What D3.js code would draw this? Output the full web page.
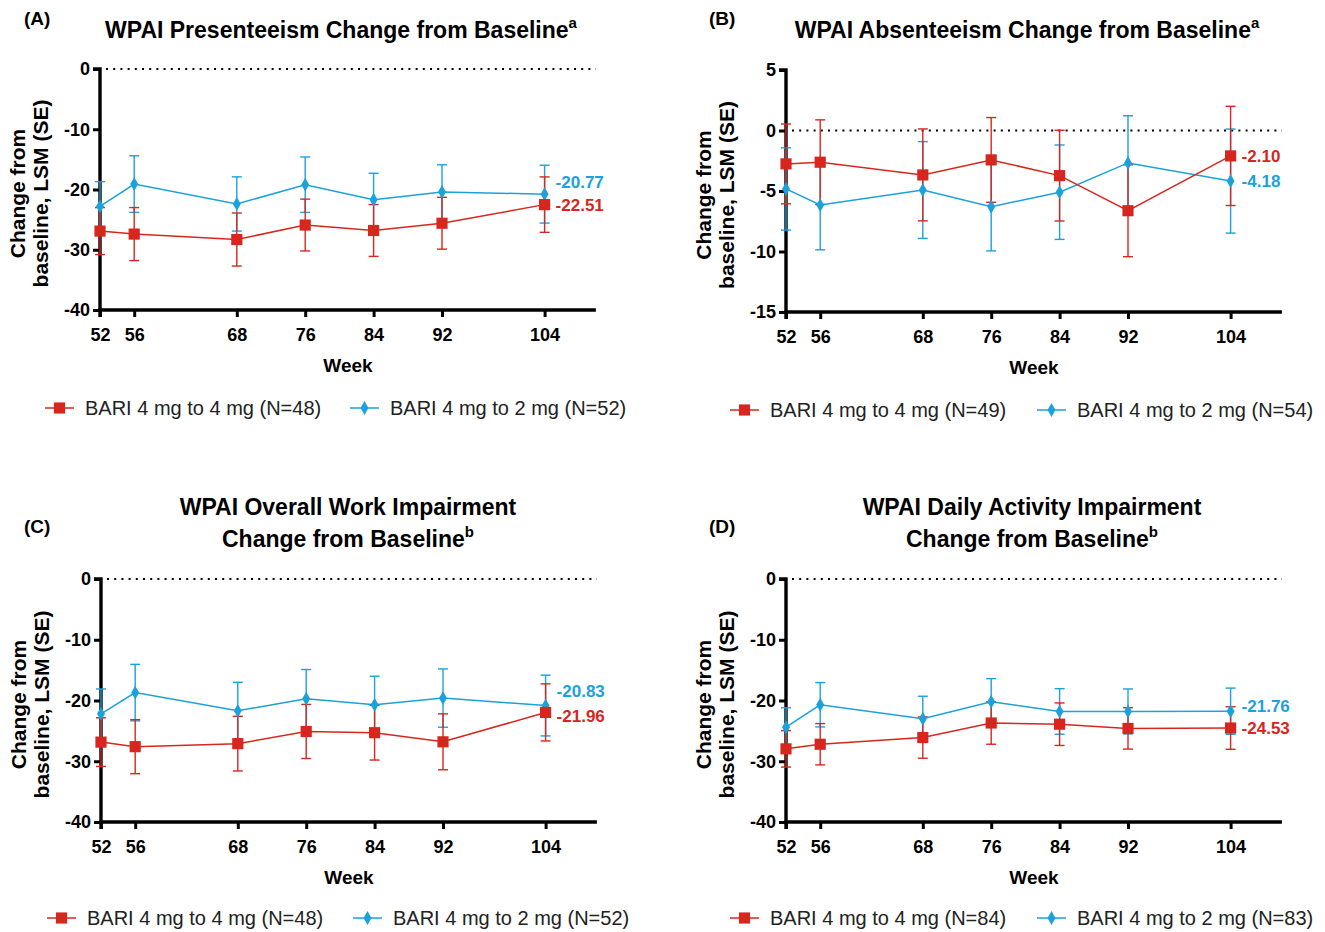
<!DOCTYPE html>
<html>
<head>
<meta charset="utf-8">
<script src="https://cdn.jsdelivr.net/npm/d3@7/dist/d3.min.js"></script>
<style>
  body { margin: 0; background: #fff; }
  svg text { font-family: "Liberation Sans", Arial, sans-serif; }
</style>
</head>
<body>
<div id="chart"></div>
<script>
// --- données ---
const weeks = [52, 56, 68, 76, 84, 92, 104];

// (A) Presenteeism
const presRed = [-26.9, -27.4, -28.3, -25.9, -26.8, -25.6, -22.51];
const presRedSE = [3.9, 4.4, 4.4, 4.3, 4.3, 4.3, 4.6];
const presBlue = [-22.8, -19.1, -22.4, -19.2, -21.7, -20.4, -20.77];
const presBlueSE = [4.1, 4.7, 4.5, 4.6, 4.4, 4.5, 4.8];

// (B) Absenteeism
const absRed = [-2.76, -2.62, -3.67, -2.43, -3.73, -6.63, -2.10];
const absRedSE = [3.3, 3.5, 3.8, 3.5, 3.75, 3.8, 4.1];
const absBlue = [-4.83, -6.16, -4.92, -6.3, -5.1, -2.68, -4.18];
const absBlueSE = [3.4, 3.7, 4.0, 3.65, 3.9, 3.9, 4.3];

// (C) Overall work impairment
const workRed = [-26.85, -27.6, -27.1, -25.1, -25.3, -26.8, -21.96];
const workRedSE = [4.0, 4.45, 4.5, 4.45, 4.5, 4.6, 4.7];
const workBlue = [-22.2, -18.7, -21.7, -19.7, -20.7, -19.6, -20.83];
const workBlueSE = [4.1, 4.65, 4.7, 4.8, 4.7, 4.8, 5.0];

// (D) Daily activity impairment
const dailyRed = [-27.96, -27.2, -26.1, -23.7, -23.9, -24.6, -24.53];
const dailyRedSE = [3.0, 3.4, 3.4, 3.5, 3.5, 3.4, 3.5];
const dailyBlue = [-24.4, -20.7, -23.0, -20.2, -21.8, -21.8, -21.76];
const dailyBlueSE = [3.2, 3.65, 3.7, 3.8, 3.75, 3.7, 3.8];

const yTicksA = [0, -10, -20, -30, -40];
const yTicksB = [5, 0, -5, -10, -15];

const RED = "#d7261e", BLUE = "#1ba1dc";

const svg = d3.select("#chart").append("svg")
    .attr("width", 1325).attr("height", 932);

// --- panneaux ---
const panels = [
  { tag: "(A)", title: ["WPAI Presenteeism Change from Baseline"], sup: "a",
    red: presRed, redSE: presRedSE, blue: presBlue, blueSE: presBlueSE,
    nRed: 48, nBlue: 52, yDomain: [-40, 0], yTicks: yTicksA,
    x0: 100, yTop: 69, yBot: 310, tagX: 24, tagY: 25, titleX: 341, titleY: 38,
    lab: [0, -12], legY: 408, legRed: 45, legBlue: 350 },
  { tag: "(B)", title: ["WPAI Absenteeism Change from Baseline"], sup: "a",
    red: absRed, redSE: absRedSE, blue: absBlue, blueSE: absBlueSE,
    nRed: 49, nBlue: 54, yDomain: [-15, 5], yTicks: yTicksB,
    x0: 786, yTop: 70, yBot: 312, tagX: 709, tagY: 25, titleX: 1027, titleY: 38,
    lab: [0, 0], legY: 410, legRed: 730, legBlue: 1037 },
  { tag: "(C)", title: ["WPAI Overall Work Impairment", "Change from Baseline"], sup: "b",
    red: workRed, redSE: workRedSE, blue: workBlue, blueSE: workBlueSE,
    nRed: 48, nBlue: 52, yDomain: [-40, 0], yTicks: yTicksA,
    x0: 101, yTop: 579, yBot: 822, tagX: 24, tagY: 533, titleX: 348, titleY: 515,
    lab: [4, -14], legY: 918, legRed: 47, legBlue: 353 },
  { tag: "(D)", title: ["WPAI Daily Activity Impairment", "Change from Baseline"], sup: "b",
    red: dailyRed, redSE: dailyRedSE, blue: dailyBlue, blueSE: dailyBlueSE,
    nRed: 84, nBlue: 83, yDomain: [-40, 0], yTicks: yTicksA,
    x0: 786, yTop: 579, yBot: 822, tagX: 709, tagY: 533, titleX: 1032, titleY: 515,
    lab: [0, -5], legY: 918, legRed: 730, legBlue: 1037 }
];

const square = d3.symbol().type(d3.symbolSquare).size(125);
const diamond = d3.symbol().type(d3.symbolDiamond).size(55);

function drawPanel(p) {
  const g = svg.append("g");
  const pxPerWeek = 8.55;
  const x = d3.scaleLinear().domain([52, 110]).range([p.x0, p.x0 + 58 * pxPerWeek]);
  const y = d3.scaleLinear().domain(p.yDomain).range([p.yBot, p.yTop]);

  // étiquette du panneau
  g.append("text").attr("x", p.tagX).attr("y", p.tagY)
    .style("font-size", "19px").style("font-weight", "bold").text(p.tag);

  // titre (dernière ligne avec exposant)
  p.title.forEach((line, i) => {
    const t = g.append("text")
      .attr("x", p.titleX).attr("y", p.titleY + i * 32)
      .attr("text-anchor", "middle")
      .style("font-size", "23px").style("font-weight", "bold")
      .text(line);
    if (i === p.title.length - 1) {
      t.append("tspan").attr("dy", -10).style("font-size", "15px").text(p.sup);
    }
  });

  // ligne de référence à zéro
  g.append("line")
    .attr("x1", x(52) + 6).attr("x2", x(110))
    .attr("y1", y(0)).attr("y2", y(0))
    .style("stroke", "#000").style("stroke-width", 2.2)
    .style("stroke-dasharray", "2,5.2");

  // axes
  const fmt = d => String(d);
  const yAxis = d3.axisLeft(y).tickValues(p.yTicks).tickFormat(fmt).tickSize(7).tickPadding(3);
  const xAxis = d3.axisBottom(x).tickValues(weeks).tickFormat(fmt).tickSize(7).tickPadding(11);

  const ya = g.append("g").attr("transform", `translate(${p.x0},0)`).call(yAxis);
  const xa = g.append("g").attr("transform", `translate(0,${p.yBot})`).call(xAxis);
  [ya, xa].forEach(a => {
    a.select(".domain").attr("stroke-width", 3.4);
    a.selectAll(".tick line").attr("stroke-width", 3);
    a.selectAll(".tick text").style("font-size", "18px").style("font-weight", "bold").attr("fill", "#000");
  });
  ya.select(".domain").attr("d", `M-7,${p.yTop}H0V${p.yBot}`);
  xa.select(".domain").attr("d", `M${p.x0},7V0H${x(110)}`);

  // titres des axes
  g.append("text")
    .attr("x", x(81)).attr("y", p.yBot + 62)
    .attr("text-anchor", "middle")
    .style("font-size", "19px").style("font-weight", "bold").text("Week");

  const yMid = (p.yTop + p.yBot) / 2 + 4;
  const yl = g.append("text")
    .attr("transform", `translate(${p.x0 - 75},${yMid}) rotate(-90)`)
    .attr("text-anchor", "middle")
    .style("font-size", "21px").style("font-weight", "bold");
  yl.append("tspan").attr("x", 0).attr("dy", 0).text("Change from");
  yl.append("tspan").attr("x", 0).attr("dy", 23).text("baseline, LSM (SE)");

  const series = [
    { vals: p.blue, se: p.blueSE, color: BLUE, sym: diamond, width: 1.4 },
    { vals: p.red, se: p.redSE, color: RED, sym: square, width: 1.4 }
  ];

  // barres d'erreur
  series.forEach(s => {
    const eb = g.append("g");
    weeks.forEach((w, i) => {
      const cx = x(w), hi = y(s.vals[i] + s.se[i]), lo = y(s.vals[i] - s.se[i]);
      eb.append("line").attr("x1", cx).attr("x2", cx).attr("y1", hi).attr("y2", lo)
        .style("stroke", s.color).style("stroke-width", s.width);
      [hi, lo].forEach(cy => eb.append("line")
        .attr("x1", cx - 5).attr("x2", cx + 5).attr("y1", cy).attr("y2", cy)
        .style("stroke", s.color).style("stroke-width", s.width));
    });
  });

  // lignes + marqueurs
  const line = d3.line().x((d, i) => x(weeks[i])).y(d => y(d));
  series.forEach(s => {
    g.append("path").datum(s.vals).attr("d", line)
      .style("fill", "none").style("stroke", s.color).style("stroke-width", 1.5);
  });
  series.forEach(s => {
    g.selectAll(null).data(s.vals).enter().append("path")
      .attr("d", s.sym)
      .attr("transform", (d, i) => `translate(${x(weeks[i])},${y(d)})`)
      .style("fill", s.color);
  });

  // valeurs finales
  const last = weeks.length - 1;
  [[p.red[last], RED, p.lab[0]], [p.blue[last], BLUE, p.lab[1]]].forEach(([v, c, dy]) => {
    g.append("text")
      .attr("x", x(104) + 11).attr("y", y(v) + dy)
      .attr("dy", "0.35em")
      .style("font-size", "17px").style("font-weight", "bold").style("fill", c)
      .text(v.toFixed(2));
  });

  // légende
  const legend = [
    { x: p.legRed, color: RED, sym: square, label: `BARI 4 mg to 4 mg (N=${p.nRed})` },
    { x: p.legBlue, color: BLUE, sym: diamond, label: `BARI 4 mg to 2 mg (N=${p.nBlue})` }
  ];
  legend.forEach(l => {
    g.append("line").attr("x1", l.x).attr("x2", l.x + 29)
      .attr("y1", p.legY).attr("y2", p.legY)
      .style("stroke", l.color).style("stroke-width", 1.5);
    g.append("path").attr("d", l.sym)
      .attr("transform", `translate(${l.x + 14.5},${p.legY})`)
      .style("fill", l.color);
    g.append("text").attr("x", l.x + 40).attr("y", p.legY).attr("dy", "0.35em")
      .style("font-size", "20px").style("fill", "#222").text(l.label);
  });
}

panels.forEach(drawPanel);
</script>
</body>
</html>
